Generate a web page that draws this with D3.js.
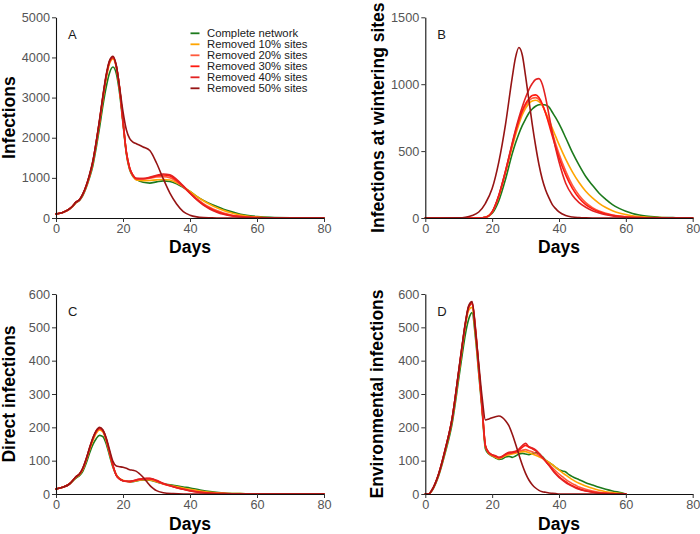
<!DOCTYPE html>
<html><head><meta charset="utf-8">
<script src="https://cdn.jsdelivr.net/npm/d3@7"></script>
<style>
html,body{margin:0;padding:0;background:#fff;}
svg{display:block;font-family:"Liberation Sans",Arial,sans-serif;}
</style></head>
<body><svg id="chart" width="700" height="534"></svg>
<script>
// ---------- data ----------
const seriesNames = ["Complete network","Removed 10% sites","Removed 20% sites","Removed 30% sites","Removed 40% sites","Removed 50% sites"];
const seriesColors = ["#1c7a1c","#ffa500","#ff5a3c","#ff1a10","#e32222","#961414"];
const xTicks = [0,20,40,60,80];

// Panel A: Infections
const daysA = [0,2,4,5,6,7,8, 10,11,12,13,14,15,16,17,18,19,20,21,22,23, 24,26,28,30,32,34,36,38,40,42,44,46,48,50,52,54,56,58,60, 64,70,80];
const infComplete = [100,140,220,290,380,440,560, 1000,1300,1750,2250,2800,3270,3620,3760,3600,3100,2350,1600,1200,1030, 960,890,870,900,925,910,850,760,660,540,440,355,285,220,165,118,80,55,38, 15,4,0];
const inf10 = [100,140,222,295,390,450,580, 1040,1370,1840,2380,2960,3480,3850,3960,3750,3200,2400,1630,1220,1040, 950,930,935,950,960,945,880,780,660,540,430,335,255,190,135,92,60,38,25, 8,2,0];
const inf20 = [100,140,224,298,395,452,590, 1060,1400,1880,2420,3010,3540,3900,4000,3780,3220,2410,1640,1240,1060, 975,970,990,1020,1030,1005,910,770,620,480,360,260,185,125,82,52,33,20,12, 4,1,0];
const inf30 = [100,140,224,298,395,452,590, 1060,1400,1880,2420,3010,3540,3900,4000,3780,3220,2410,1640,1240,1060, 980,980,1005,1045,1070,1045,940,790,620,465,335,235,160,105,68,42,26,16,10, 3,1,0];
const inf40 = [100,140,224,298,395,452,590, 1060,1400,1880,2420,3010,3540,3900,4000,3780,3220,2410,1640,1240,1060, 990,985,1015,1065,1095,1075,965,800,620,455,320,220,145,92,58,35,21,12,7, 2,0,0];
const inf50 = [100,140,225,300,400,455,600, 1080,1420,1900,2450,3050,3580,3930,4030,3800,3250,2650,2200,1980,1890, 1850,1770,1680,1370,980,620,350,160,70,28,10,4,1,0,0,0,0,0,0, 0,0,0];

// Panel B: Infections at wintering sites
const daysB = [0,10,12,14,16,18,20,22,24,26, 27,28,29,30,31,32,33,34,35,36,37,38,39,40, 42,44,46,48,50,52,54,56,58,60,62,64,66, 70,75,80];
const winComplete = [0,0,0,0,0,5,35,130,290,480, 560,630,690,740,785,815,835,846,848,845,830,790,750,705, 600,490,395,310,245,185,140,100,72,50,34,22,14, 6,2,0];
const win10 = [0,0,0,0,1,6,45,160,340,530, 620,700,770,820,855,875,880,870,840,790,735,670,610,550, 440,345,265,200,150,110,78,55,38,26,17,11,7, 3,1,0];
const win20 = [0,0,0,0,1,6,45,165,345,545, 640,720,790,840,875,895,900,885,845,785,715,635,555,480, 350,245,170,115,78,52,35,23,15,10,6,4,2, 1,0,0];
const win30 = [0,0,0,0,1,6,46,168,350,552, 648,732,802,855,892,915,920,900,852,782,700,612,530,452, 322,222,150,100,68,46,30,20,13,8,5,3,2, 1,0,0];
const win40 = [0,0,0,0,1,6,46,170,352,560, 660,750,830,900,960,1005,1035,1042,1000,900,770,640,520,420, 260,170,115,80,55,38,25,16,10,6,3,2,1, 0,0,0];
const win50 = [0,1,5,18,45,110,220,420,700,1050, 1200,1274,1220,1060,880,700,540,400,290,210,150,100,70,45, 18,7,3,1,0,0,0,0,0,0,0,0,0, 0,0,0];

// Panel C: Direct infections
const daysC = [0,2,4, 6,7,8,9,10,11,12,13,14,15,16,17,18,19,20,21,22,23,24,25,26,27,28,29,30, 32,35,38,40,43,46,50,55,60,80];
const dirComplete = [15,20,30, 48,55,68,92,122,148,166,176,172,150,115,80,57,46,40,38,37,37,39,41,42,42,41,39,36, 31,26,21,18,12,7,3,1,0,0];
const dir10 = [15,20,30, 50,58,73,100,132,160,182,192,186,160,122,84,58,46,41,38,37,38,40,42,43,43,42,40,37, 31,24,18,14,9,5,2,1,0,0];
const dir20 = [15,20,30, 51,59,75,102,135,164,186,196,189,163,124,85,57,45,40,38,37,38,41,43,44,45,44,42,38, 30,22,15,11,6,3,1,0,0,0];
const dir30 = [15,20,30, 52,60,76,104,136,166,188,197,190,164,125,85,56,45,40,38,37,39,42,44,45,46,46,44,40, 31,22,14,10,5,3,1,0,0,0];
const dir40 = [15,20,30, 52,60,77,104,137,167,189,198,191,165,126,86,56,45,40,38,38,40,43,45,46,47,47,45,41, 32,22,14,9,5,2,1,0,0,0];
const dir50 = [15,20,30, 52,60,78,105,138,168,190,200,192,168,132,98,84,82,80,77,73,71,68,60,50,38,26,17,10, 4,1,0,0,0,0,0,0,0,0];

// Panel D: Environmental infections
const daysD = [0,1,2,4,6,8,10, 11,12,13,14,15,16,17,18,19,20, 21,22,23,24,25,26,27,28,29,30, 31,32,33,34,35,36,37,38,39,40, 41,42,43,44,45,46, 48,50,52,54,56,58,59,60];
const envComplete = [0,0,10,55,125,210,345, 415,480,525,544,470,360,250,135,120,114, 108,104,105,111,113,110,114,120,122,120, 118,122,124,121,112,102,95,88,80,73, 69,66,58,52,47,43, 34,27,20,14,9,5,3,0];
const env10 = [0,0,11,58,130,220,360, 435,505,552,560,480,370,255,142,122,115, 110,106,110,115,118,120,122,125,127,127, 124,120,116,112,107,101,95,88,80,72, 64,57,50,43,37,32, 24,17,11,7,4,2,1,0];
const env20 = [0,0,12,60,135,224,366, 440,510,560,570,490,375,258,143,124,117, 112,108,112,118,121,123,125,128,131,133, 130,127,122,116,108,99,89,79,69,60, 52,44,37,31,26,21, 14,9,5,3,1,0,0,0];
const env30 = [0,0,12,60,135,225,368, 442,512,562,573,495,378,260,144,124,117, 113,109,112,119,123,124,127,132,140,146, 140,136,130,121,110,98,86,74,62,52, 44,37,30,25,20,16, 10,6,3,2,1,0,0,0];
const env40 = [0,0,12,60,135,225,368, 442,512,562,574,500,380,260,145,125,118, 115,110,113,120,125,126,128,135,145,152, 142,138,132,122,110,98,86,72,60,50, 42,34,28,23,18,14, 9,5,3,1,0,0,0,0];
const env50 = [0,0,12,60,135,225,370, 445,515,565,577,490,390,290,222,225,229, 232,234,230,220,205,180,150,118,88,62, 42,28,18,11,7,5,3,2,1,0, 0,0,0,0,0,0, 0,0,0,0,0,0,0,0];

// ---------- panels ----------
const panels = [
  {letter:"A", ylabel:"Infections", days:daysA, series:[infComplete,inf10,inf20,inf30,inf40,inf50], yTicks:[0,1000,2000,3000,4000,5000], legend:true,
   x0:56, x1:324, y0:218, y1:17.3, ylabX:15, xlabY:252.5},
  {letter:"B", ylabel:"Infections at wintering sites", days:daysB, series:[winComplete,win10,win20,win30,win40,win50], yTicks:[0,500,1000,1500],
   x0:425.3, x1:692.7, y0:218, y1:17.3, ylabX:384, xlabY:252.5},
  {letter:"C", ylabel:"Direct infections", days:daysC, series:[dirComplete,dir10,dir20,dir30,dir40,dir50], yTicks:[0,100,200,300,400,500,600],
   x0:56, x1:324, y0:494, y1:294, ylabX:15, xlabY:529.5},
  {letter:"D", ylabel:"Environmental infections", days:daysD, series:[envComplete,env10,env20,env30,env40,env50], yTicks:[0,100,200,300,400,500,600],
   x0:425.3, x1:692.7, y0:494, y1:294, ylabX:383, xlabY:529.5}
];

const svg = d3.select("#chart");

panels.forEach(p => {
  const x = d3.scaleLinear().domain([0,80]).range([p.x0,p.x1]);
  const ymax = p.yTicks[p.yTicks.length-1];
  const y = d3.scaleLinear().domain([0,ymax]).range([p.y0,p.y1]);
  const g = svg.append("g");

  // lines
  const line = d3.line().x(d=>x(d[0])).y(d=>y(d[1])).curve(d3.curveMonotoneX);
  p.series.forEach((vals,i) => {
    const n = Math.min(vals.length, p.days.length);
    const pts = d3.range(n).map(k => [p.days[k], vals[k]]);
    g.append("path").attr("d", line(pts)).attr("fill","none")
      .attr("stroke", seriesColors[i]).attr("stroke-width",1.6)
      .attr("stroke-linejoin","round").attr("stroke-linecap","round");
  });

  // axes
  const xa = g.append("g").attr("transform",`translate(0,${p.y0})`)
    .call(d3.axisBottom(x).tickValues(xTicks).tickSize(4).tickPadding(2).tickSizeOuter(0));
  const ya = g.append("g").attr("transform",`translate(${p.x0},0)`)
    .call(d3.axisLeft(y).tickValues(p.yTicks).tickSize(4).tickPadding(2).tickSizeOuter(0).tickFormat(d3.format("d")));
  [xa,ya].forEach(a => {
    a.select(".domain").attr("stroke","#111").attr("stroke-width",1.1);
    a.selectAll(".tick line").attr("stroke","#333").attr("stroke-width",1);
    a.selectAll(".tick text").attr("fill","#555").style("font-size","12.7px")
      .style("font-family","'Liberation Sans',Arial,sans-serif");
  });

  // axis titles
  g.append("text").attr("x",(p.x0+p.x1)/2).attr("y",p.xlabY).attr("text-anchor","middle")
    .style("font-size","17.5px").style("font-weight","bold").attr("fill","#000").text("Days");
  g.append("text").attr("transform",`translate(${p.ylabX},${(p.y0+p.y1)/2}) rotate(-90)`)
    .attr("text-anchor","middle").style("font-size","17.5px").style("font-weight","bold")
    .attr("fill","#000").text(p.ylabel);

  // panel letter
  g.append("text").attr("x",p.x0+12).attr("y",p.y1+21.5).style("font-size","13px")
    .attr("fill","#1a1a1a").text(p.letter);

  // legend
  if (p.legend) {
    const lg = g.append("g");
    seriesNames.forEach((nm,i) => {
      const yy = 33.3 + i*11;
      lg.append("line").attr("x1",190.5).attr("x2",199.5).attr("y1",yy).attr("y2",yy)
        .attr("stroke",seriesColors[i]).attr("stroke-width",1.8);
      lg.append("text").attr("x",207).attr("y",yy+4).style("font-size","11.3px")
        .attr("fill","#1a1a1a").text(nm);
    });
  }
});
</script>
</body></html>
